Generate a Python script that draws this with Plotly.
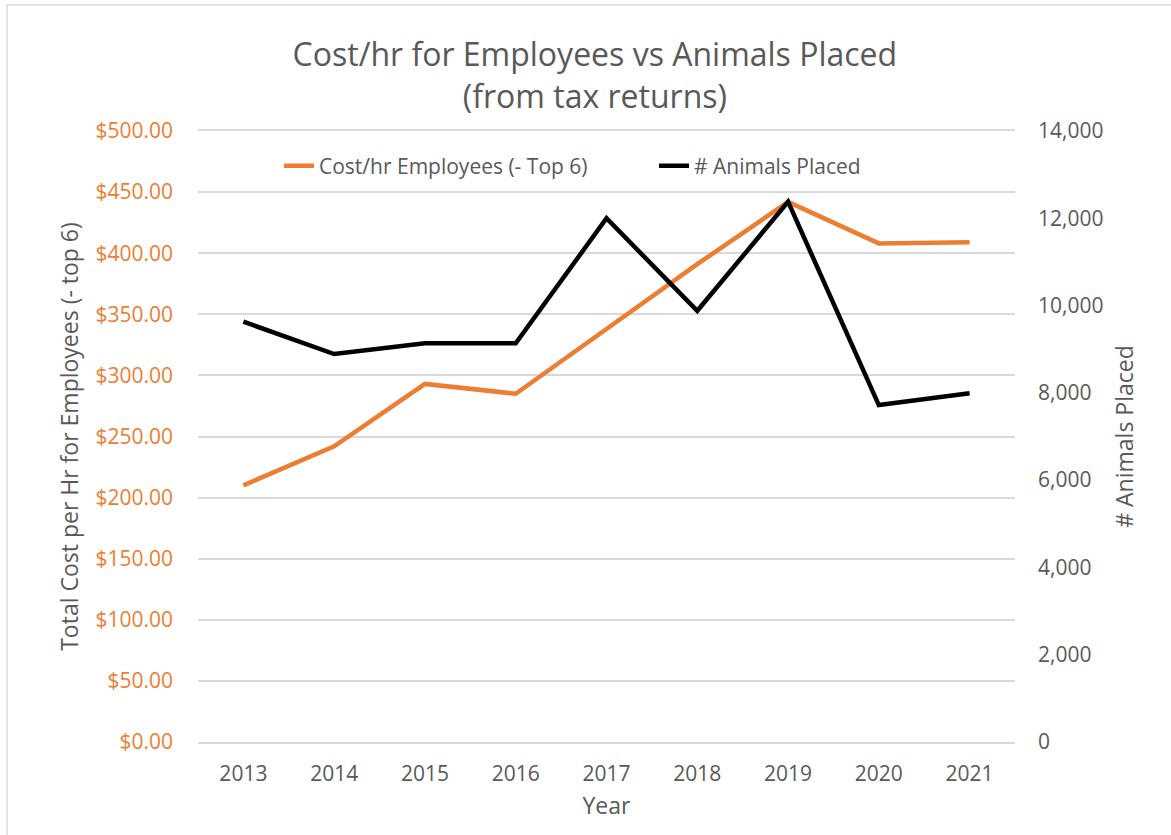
import plotly.graph_objects as go

years = ["2013", "2014", "2015", "2016", "2017", "2018", "2019", "2020", "2021"]
cost_per_hr = [210, 242, 293, 285, 338, 391, 442, 408, 409]
animals_placed = [9630, 8890, 9135, 9135, 12000, 9880, 12380, 7720, 7990]

left_ticks = [0, 50, 100, 150, 200, 250, 300, 350, 400, 450, 500]
left_labels = [f"${v:.2f}" for v in left_ticks]
right_ticks = [0, 2000, 4000, 6000, 8000, 10000, 12000, 14000]
right_labels = [f"{v:,}" for v in right_ticks]

ORANGE = "#ED7D31"
GREY = "#595959"
FONT = "Open Sans, Lato, sans-serif"

fig = go.Figure()
fig.add_trace(go.Scatter(x=years, y=cost_per_hr, mode="lines", name="Cost/hr Employees (- Top 6)",
                         line=dict(color=ORANGE, width=4.5), yaxis="y"))
fig.add_trace(go.Scatter(x=years, y=animals_placed, mode="lines", name="# Animals Placed",
                         line=dict(color="#000000", width=4.5), yaxis="y2"))

fig.update_layout(
    width=1171, height=835,
    paper_bgcolor="white", plot_bgcolor="white",
    margin=dict(l=198, r=156, t=131, b=93),
    font=dict(family=FONT, color=GREY, size=21),
    title=dict(text="Cost/hr for Employees vs Animals Placed<br>(from tax returns)",
               x=0.508, xanchor="center", y=1 - 66 / 835, yanchor="middle",
               font=dict(size=32, color=GREY)),
    showlegend=True,
    legend=dict(orientation="h", x=(279 - 198) / 817, xanchor="left", y=(742 - 166) / 611,
                yanchor="middle", entrywidth=330, entrywidthmode="pixels",
                bgcolor="rgba(255,255,255,0)", font=dict(size=21, color=GREY),
                tracegroupgap=0),
    xaxis=dict(type="category", showgrid=False, showline=True, mirror=True, linecolor="#D9D9D9",
               linewidth=1.5, ticks="", tickfont=dict(size=21, color=GREY),
               ticklabelstandoff=12,
               title=dict(text="Year", font=dict(size=23, color=GREY), standoff=12),
               range=[-0.5, 8.5]),
    yaxis=dict(range=[0, 500], tickvals=left_ticks, ticktext=left_labels,
               tickfont=dict(size=21, color=ORANGE), showgrid=True, gridcolor="#D9D9D9",
               gridwidth=1.5, zeroline=False, showline=False, ticks="",
               ticklabelstandoff=24, automargin=False,
               title=dict(text="Total Cost per Hr for Employees (- top 6)",
                          font=dict(size=23, color=GREY), standoff=10)),
    yaxis2=dict(range=[0, 14000], tickvals=right_ticks, ticktext=right_labels,
                overlaying="y", side="right", showgrid=False, zeroline=False,
                tickfont=dict(size=21, color=GREY), ticks="", ticklabelstandoff=22,
                automargin=False,
                title=dict(text="# Animals Placed", font=dict(size=23, color=GREY),
                           standoff=14)),
)

# outer chart frame (left and top edges visible in the reference)
fig.add_shape(type="line", xref="paper", yref="paper",
              x0=(7 - 198) / 817, x1=(7 - 198) / 817, y0=(742 - 835) / 611, y1=(742 - 5) / 611,
              line=dict(color="#D9D9D9", width=1.5))
fig.add_shape(type="line", xref="paper", yref="paper",
              x0=(7 - 198) / 817, x1=(1171 - 198) / 817, y0=(742 - 5) / 611, y1=(742 - 5) / 611,
              line=dict(color="#D9D9D9", width=1.5))

fig.write_html("out.html")
